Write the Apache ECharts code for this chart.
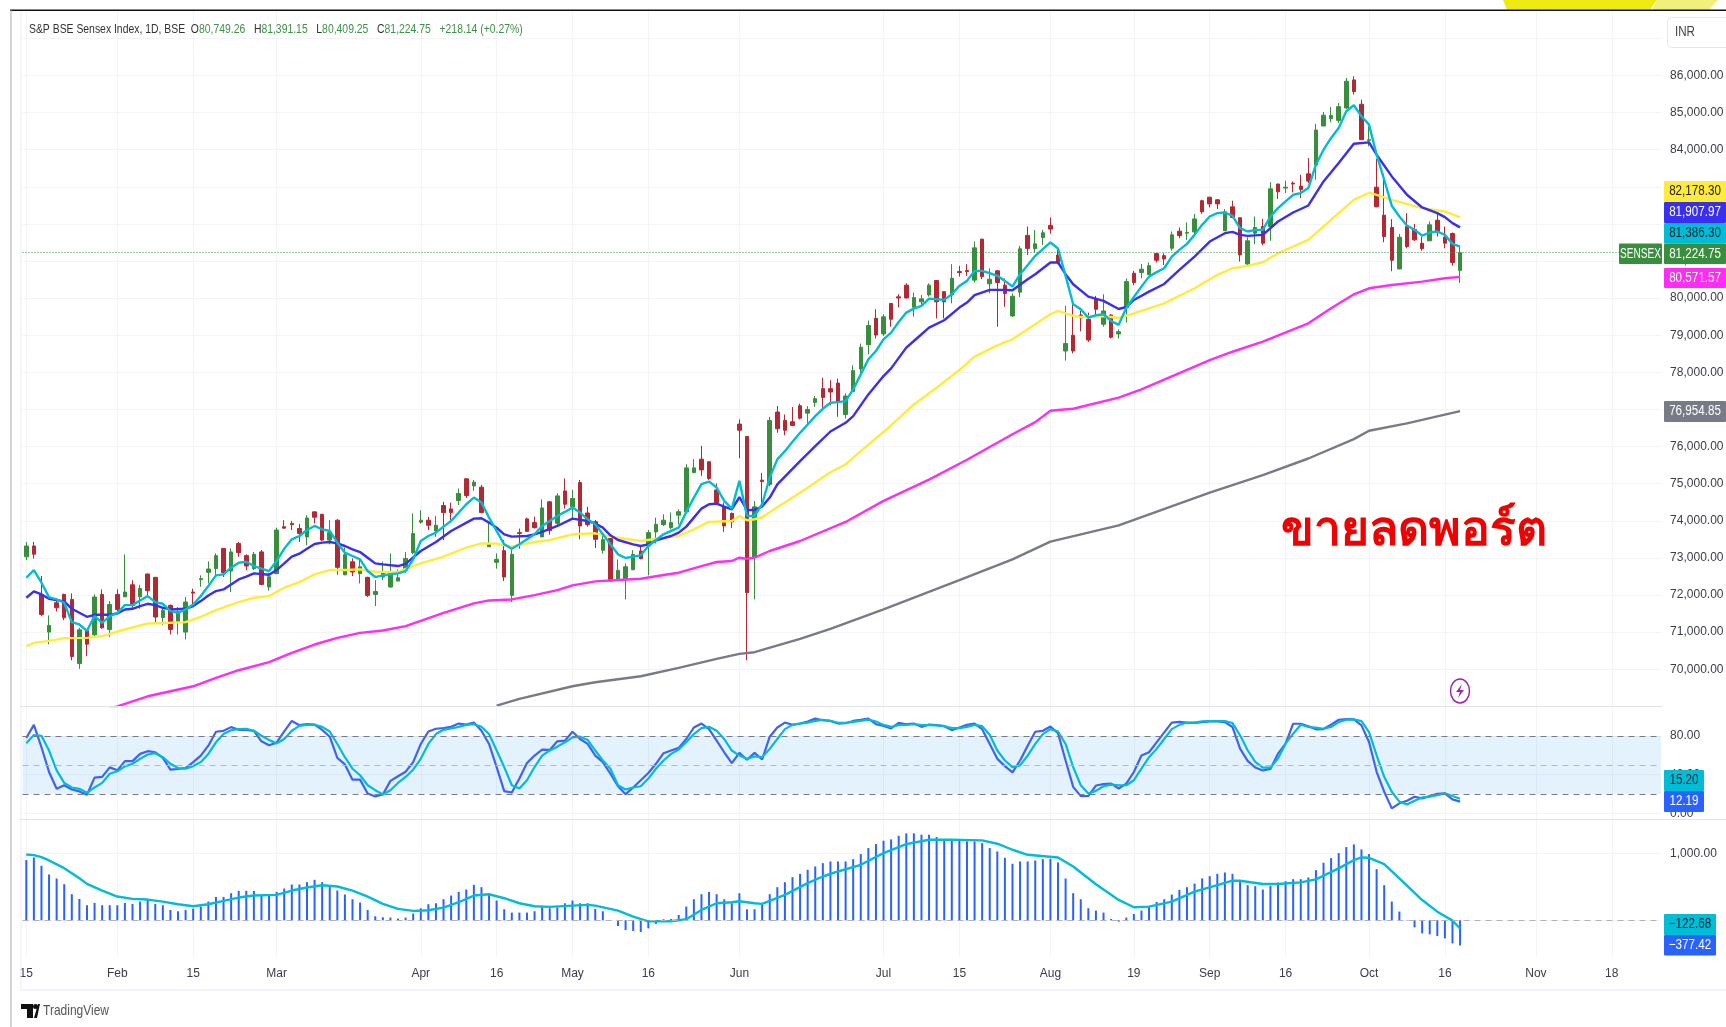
<!DOCTYPE html>
<html>
<head>
<meta charset="utf-8">
<title>S&P BSE Sensex Index</title>
<style>
	html, body { margin: 0; padding: 0; background: #fff; }
	#chart { width: 1726px; height: 1027px; }
</style>
</head>
<body>
<div id="chart"></div>
<script src="https://cdn.jsdelivr.net/npm/echarts@6/dist/echarts.min.js"></script>
<script>
// time axis: candle positions of the date labels, the rest of the categories stay blank
const categoryCount = 216
const tickIndex = [0, 12, 22, 33, 52, 62, 72, 82, 94, 113, 123, 135, 146, 156, 166, 177, 187, 199, 209]
const tickLabels = ['15', 'Feb', '15', 'Mar', 'Apr', '16', 'May', '16', 'Jun', 'Jul', '15', 'Aug', '19', 'Sep', '16', 'Oct', '16', 'Nov', '18']

const candleOpen = [
	73030,73320,72015,71000,71790,72015,71880,70150,71035,70925,
	72015,71070,72015,71950,72275,71950,72565,72475,71395,71720,
	71270,71000,72080,72410,72610,72710,73255,72645,73390,73060,
	72710,73160,72215,72575,73840,73925,73790,73565,74240,74175,
	73480,74015,72545,72895,72575,72475,72015,72485,72215,72375,
	72670,73140,73960,74015,73725,74410,74320,74545,75130,74940,
	74905,73300,72880,73195,71990,73680,74050,73950,73565,74510,
	73930,74805,74375,75030,74210,73975,73205,73520,72430,72440,
	72680,73185,73320,73700,73895,73815,74150,74240,75300,75660,
	75590,74830,74380,74200,76605,76270,73005,75095,74975,76930,
	76705,76670,77100,76900,77190,77560,77560,77710,76865,77485,
	78090,78745,79455,79035,79855,80035,80350,79755,79900,80085,
	80475,80175,80085,80715,80745,80485,81590,80385,80735,80350,
	79520,80160,81690,81330,81635,81960,81160,78575,79000,79545,
	79430,79990,79295,79545,79035,79745,80670,80690,80635,81200,
	81145,81345,81805,81750,81785,82625,82720,82650,81815,82460,
	82165,80920,81750,81930,81930,83075,82965,83100,83020,83350,
	83585,84640,84835,84790,85125,85880,85225,84245,82990,82235,
	81905,80785,81930,81850,81480,81545,82100,81640,81740,80749.26
]
const candleClose = [
	73320,73100,71475,71180,71655,71385,70340,71060,70675,71945,
	71115,71745,71610,72080,71720,72175,72115,71405,71585,71070,
	71555,71810,72050,72440,72700,73060,72600,73160,73140,72780,
	73095,72285,72490,73750,73800,73895,73660,74075,74095,73480,
	73680,72745,73085,72620,72760,71990,72095,72625,72575,72465,
	72985,73655,74015,73880,73880,74220,74220,74735,74680,75040,
	74220,73390,72960,72485,73095,73655,73715,73815,74345,73735,
	74670,74445,74600,73860,73895,73500,73490,72375,72665,72760,
	73095,72980,73680,73905,74015,73950,74245,75425,75425,75370,
	75140,74490,73860,73970,76440,72060,74375,75055,76705,76480,
	76440,76570,76765,77000,77290,77325,77470,77190,77360,78045,
	78675,79260,79005,79495,79430,80005,80005,80015,79980,80350,
	79900,79900,80535,80690,80715,81355,80580,80510,80420,80125,
	80050,81330,81340,81465,81760,81860,80970,78775,78575,79465,
	78870,79700,79655,78945,79095,80445,80420,80780,80875,81020,
	81055,81705,81685,81770,82135,82325,82540,82540,82325,82175,
	81165,81545,81905,81480,82945,82865,82990,83075,82930,83155,
	84530,84930,84925,85160,85845,85565,84270,84270,82460,81660,
	81020,81640,81390,81570,81335,81975,81770,81480,80960,81224.75
]
const candleLow = [
	72940,72980,71430,70670,71555,71320,70240,70010,70350,70890,
	71090,70870,71565,71950,71655,71630,71970,71230,71195,70935,
	70935,70800,71700,72220,72310,72510,72485,72080,73030,72670,
	72670,72260,72115,72575,73790,73750,73430,73340,73930,73455,
	73365,72545,72530,72510,72310,71945,71700,72400,72195,72375,
	72600,73095,73925,73750,73570,73480,73950,74420,74615,74805,
	74200,73300,72710,72375,71810,73250,73700,73790,73565,73625,
	73880,74330,74040,73500,73840,73265,73115,72350,72395,71880,
	72670,72960,72530,73390,73860,73770,73905,74200,75280,75210,
	75100,74445,73700,73800,75685,70240,71880,74390,74930,76370,
	76305,76550,76730,76595,77070,77000,77110,76800,76755,77470,
	77945,78485,78910,78980,79230,79755,79990,79500,79770,80040,
	79455,79455,79860,80580,80600,80420,80510,80130,79230,79765,
	79495,80025,81160,81230,81430,81735,80915,78315,78510,79105,
	78820,79540,79230,78910,78910,79340,80350,80535,80625,80960,
	80895,81280,81615,81570,81705,82270,82445,82400,81815,82155,
	80985,80885,81455,81425,81545,82670,82830,82850,82695,83100,
	83190,84630,84740,84720,85100,85485,84265,84090,82450,81505,
	80725,80785,81345,81545,81280,81545,81660,81345,80875,80409.25
]
const candleHigh = [
	73430,73430,72510,71450,71900,72035,72040,71115,71070,72015,
	72150,71835,72150,73095,72400,72275,72575,72475,71655,71745,
	71675,71945,72170,72530,72905,73120,73265,73255,73430,73095,
	73160,73210,72600,73815,74015,73995,73915,74150,74245,74175,
	74015,74040,73275,72985,72980,72490,72400,72895,73120,72690,
	73160,74200,74285,74105,74130,74510,74490,74870,75140,75100,
	74965,73950,73120,73480,73230,73790,74085,74110,74580,74535,
	74740,75140,74830,75100,74380,74020,73610,73530,72960,72850,
	73210,73320,73750,74085,74175,74220,74310,75525,75660,76020,
	75590,75005,74490,74220,76730,76280,74535,75290,76800,77090,
	76865,77065,77155,77090,77360,77855,77790,77830,77430,78190,
	78775,79395,79700,79565,79855,80105,80400,80150,80085,80400,
	80485,80185,80915,80870,80915,81525,81600,80800,80760,80530,
	80130,81410,81930,81835,81840,82175,81365,79790,79835,79655,
	79610,80060,80105,79565,79160,80530,80735,80920,80960,81210,
	81210,81795,81905,82040,82270,82650,82730,82670,82400,82625,
	82175,81635,82200,82135,83125,83080,83165,83145,83325,83775,
	84695,85015,85150,85260,85935,85980,85350,84630,83750,83345,
	82130,81730,82290,82000,81660,82065,82270,81930,81770,81391.15
]

// moving averages, [candle index, value]
const emaCyan = [
	[0,72465],[1,72672],[2,72330],[3,71943],[4,71880],[5,71790],[6,71268],[7,71205],[8,71034],[9,71430],
	[10,71250],[11,71430],[12,71520],[13,71727],[14,71727],[15,71853],[16,71970],[17,71808],[18,71763],[19,71565],
	[20,71520],[21,71610],[22,71745],[23,71970],[24,72240],[25,72528],[26,72555],[27,72735],[28,72870],[29,72897],
	[30,72780],[31,72708],[32,72645],[33,72915],[34,73248],[35,73500],[36,73590],[37,73752],[38,73860],[39,73770],
	[40,73725],[41,73410],[42,73140],[43,73050],[44,72960],[45,72645],[46,72483],[47,72528],[48,72560],[49,72582],
	[50,72645],[51,72960],[52,73455],[53,73590],[54,73680],[55,73842],[56,73995],[57,74220],[58,74445],[59,74625],
	[60,74490],[61,74085],[62,73725],[63,73365],[64,73248],[65,73365],[66,73500],[67,73635],[68,73860],[69,73995],
	[70,74130],[71,74238],[72,74355],[73,74220],[74,74040],[75,73905],[76,73635],[77,73365],[78,73095],[79,72996],
	[80,73032],[81,73068],[82,73320],[83,73482],[84,73635],[85,73725],[86,73815],[87,74238],[88,74625],[89,74985],
	[90,75057],[91,74895],[92,74535],[93,74328],[94,75075],[95,74130],[96,74130],[97,74445],[98,75165],[99,75655],
	[100,75875],[101,76127],[102,76370],[103,76595],[104,76820],[105,77018],[106,77180],[107,77198],[108,77225],[109,77540],
	[110,77945],[111,78350],[112,78575],[113,78890],[114,79070],[115,79358],[116,79610],[117,79718],[118,79790],[119,79988],
	[120,79970],[121,79952],[122,80105],[123,80330],[124,80465],[125,80735],[126,80735],[127,80672],[128,80600],[129,80465],
	[130,80312],[131,80645],[132,80888],[133,81140],[134,81320],[135,81500],[136,81338],[137,80600],[138,79835],[139,79700],
	[140,79475],[141,79538],[142,79565],[143,79385],[144,79280],[145,79735],[146,80030],[147,80310],[148,80580],[149,80700],
	[150,80805],[151,81120],[152,81300],[153,81462],[154,81705],[155,81975],[156,82200],[157,82290],[158,82308],[159,82218],
	[160,81885],[161,81795],[162,81840],[163,81840],[164,82200],[165,82425],[166,82605],[167,82785],[168,82830],[169,82965],
	[170,83595],[171,84000],[172,84315],[173,84585],[174,85035],[175,85197],[176,84900],[177,84675],[178,83865],[179,83190],
	[180,82488],[181,82200],[182,81957],[183,81840],[184,81687],[185,81768],[186,81795],[187,81705],[188,81462],[189,81386.3]
]
const emaBlue = [
	[0,71925],[1,72096],[2,72015],[3,71898],[4,71862],[5,71826],[6,71628],[7,71520],[8,71412],[9,71466],
	[11,71466],[12,71502],[13,71610],[14,71628],[15,71700],[16,71763],[17,71727],[18,71655],[19,71610],[21,71628],
	[22,71700],[23,71835],[24,71988],[25,72105],[26,72150],[27,72285],[28,72420],[29,72492],[30,72582],[32,72546],
	[33,72672],[34,72852],[35,73032],[36,73113],[37,73248],[38,73374],[39,73410],[40,73428],[41,73392],[42,73320],
	[43,73230],[44,73158],[45,73005],[46,72852],[47,72825],[49,72780],[50,72840],[52,73185],[54,73428],[56,73725],
	[59,74058],[60,74067],[61,73950],[62,73815],[63,73635],[64,73572],[66,73590],[67,73635],[68,73698],[70,73860],
	[72,74058],[74,73995],[75,73923],[76,73815],[77,73608],[78,73482],[80,73365],[81,73320],[82,73365],[83,73473],
	[85,73590],[86,73680],[87,73842],[88,74085],[89,74328],[90,74445],[91,74463],[92,74382],[93,74310],[94,74634],
	[95,74292],[96,74292],[97,74382],[98,74625],[99,74980],[102,75605],[104,76010],[106,76406],[108,76640],[109,76820],
	[111,77405],[113,77900],[114,78107],[116,78665],[117,78845],[119,79205],[121,79403],[123,79745],[124,79880],[125,80078],
	[127,80222],[129,80222],[130,80213],[132,80510],[133,80645],[135,80960],[136,80960],[137,80645],[138,80375],[140,80042],
	[142,79925],[144,79708],[145,79760],[146,79950],[148,80175],[150,80382],[152,80760],[154,81120],[156,81525],[158,81750],
	[159,81786],[160,81705],[161,81678],[163,81705],[165,82065],[167,82308],[169,82497],[171,83145],[173,83640],[175,84162],
	[177,84198],[178,83865],[180,83280],[182,82785],[184,82443],[186,82290],[187,82182],[188,82020],[189,81907.97]
]
const emaYellow = [
	[0,70620],[1,70710],[3,70764],[5,70836],[8,70845],[10,70890],[13,71070],[16,71232],[19,71250],[21,71268],
	[23,71412],[25,71592],[28,71808],[30,71925],[32,71970],[34,72195],[36,72348],[38,72555],[40,72672],[42,72672],
	[44,72690],[46,72627],[49,72620],[52,72852],[55,73032],[58,73275],[60,73392],[62,73383],[64,73302],[67,73428],
	[69,73482],[72,73635],[75,73662],[77,73572],[81,73455],[84,73545],[86,73590],[88,73770],[90,73968],[93,73995],
	[94,74130],[95,74013],[96,74040],[97,74095],[99,74365],[102,74755],[106,75308],[108,75520],[110,75875],[114,76568],
	[117,77135],[120,77585],[123,78062],[125,78422],[128,78728],[130,78890],[133,79295],[135,79565],[136,79655],[138,79520],
	[139,79493],[142,79520],[144,79465],[146,79590],[150,79860],[154,80265],[157,80625],[159,80805],[161,80868],[163,80967],
	[165,81210],[169,81570],[173,82290],[175,82650],[177,82839],[178,82785],[180,82650],[184,82425],[187,82335],[189,82178.3]
]
const emaMagenta = [
	[11,68950],[12,69000],[16,69270],[19,69405],[22,69540],[25,69765],[28,69972],[32,70188],[35,70440],[38,70665],
	[41,70845],[44,70980],[47,71043],[50,71160],[52,71305],[55,71520],[59,71772],[61,71853],[64,71880],[67,71997],
	[70,72132],[72,72258],[75,72366],[78,72402],[81,72438],[84,72537],[86,72600],[89,72780],[91,72888],[93,72915],
	[94,73005],[95,72978],[96,73005],[98,73185],[102,73455],[108,73968],[113,74535],[119,75110],[124,75645],[130,76330],
	[133,76658],[135,76965],[136,76985],[138,77018],[144,77320],[147,77540],[156,78330],[159,78555],[163,78825],[169,79320],
	[172,79725],[175,80103],[177,80265],[180,80355],[184,80445],[187,80535],[189,80571.57]
]
const emaGray = [
	[62,69020],[65,69198],[72,69540],[75,69648],[81,69810],[86,70035],[91,70278],[94,70413],[96,70458],[102,70818],
	[106,71088],[113,71610],[123,72402],[130,72960],[135,73437],[144,73878],[156,74760],[163,75228],[169,75678],[175,76200],
	[177,76425],[182,76623],[189,76954.85]
]

const stochK = [
	78,91.5,68.4,42.8,25.4,29.1,24.7,22.7,19.3,37,37.7,47.6,44.5,54,54,61.5,64.3,63.2,57.4,45.2,
	45.9,46.9,53,59.8,70,84.4,85.4,89.2,86.4,86.4,85.4,74.5,70.4,73.1,84.7,95.6,91.2,92.2,91.9,86.4,
	79.3,57.4,50.6,34.9,34.9,20.6,17.5,19.6,33.6,38.4,43.1,53,71.8,84.7,87.5,88.1,89.5,92.9,91.9,93.9,
	85.4,71.8,47.9,23,21.6,36,52,59.8,66,65.6,74.5,75.2,84.4,76.9,71.8,59.8,53,41,28.1,19.9,
	26.8,34.3,41.8,51.3,62.2,65,67.7,76.9,88.8,92.9,87.1,75.2,63.2,52,62.6,55.4,62.6,55.7,79.3,88.8,
	93.9,91.5,92.9,95,98,96.3,95.6,92.9,93.2,95.6,96.7,98,92.2,90.5,87.8,93.6,92.2,92.9,89.5,91.9,
	91.2,90.2,86.1,88.8,91.5,92.9,87.1,71.8,56.4,48.9,42.4,54.7,70,84.4,85.4,89.8,83,54.7,27.4,17.9,
	18.2,28.8,30.2,30.8,25.7,30.8,42.8,59.8,63.2,73.5,83.7,93.9,94.6,93.9,93.6,94.4,95.1,95.1,94.4,89.3,
	67,54.3,47.4,44.3,46,61.8,72.1,92.7,92.7,90,86.9,87.2,91.7,96.8,97.5,97.2,91,73.8,43,22.4,
	5.2,10.4,13.1,17.2,15.5,17.9,20.3,20.7,14.5,12.19
]
const stochD = [
	72.4,81,80.3,65,44.5,31.5,26.8,25.4,21.3,26.8,31.5,41,43.5,48.6,51.3,56.4,60.9,62.2,58.1,51.3,
	46.9,46.2,48.9,53,61.5,73.5,82,86,87.1,87.5,85.4,80.3,75.8,72.4,76.9,85.4,90.5,91.5,91.5,89.5,
	84.7,71.8,58.1,46.2,39.4,29.1,24,19.6,24,31.5,37.7,45.2,56.4,71.8,82,86.4,87.8,89.5,91.5,92.2,
	89.5,82,65,47.9,29.1,25.7,34.3,47.9,59.8,65,69,73.5,78.6,79.3,75.9,65,54.7,46.2,29.1,24.7,
	26.8,28.1,36,46.2,54.7,61.5,66,73.5,82,88.1,89.5,85.4,76.9,65,59.8,56.4,58.8,58.1,66.7,76.9,
	87.1,91.5,92.9,93.9,95.6,96.7,95.6,93.6,93.6,94.6,95.6,97,95,91.5,89.5,91.2,91.5,92.2,91.2,91.2,
	90.9,90.2,88.1,88.1,89.5,91.5,90.2,81.3,65,54.7,47.9,49.6,59.8,71.8,82,87.1,84.7,71.8,47.9,29.1,
	20.6,23.3,28.1,29.8,29.1,29.1,34.3,46.2,58.1,66.7,76.9,87.1,91.5,93.9,93.9,95.1,95.4,95.4,95.4,93.4,
	80.7,65.3,53.2,47.4,47.4,56.7,72.1,82.4,91.7,89.3,88.6,87.5,89.3,94.4,96.8,97.2,95.4,84.1,60.1,37.8,
	22.4,12.1,9.3,13.1,16.5,17.2,18.9,20.7,17.9,15.2
]

const macdHist = [
	900,940,815,685,625,540,390,320,225,260,225,225,225,260,245,280,305,245,225,155,
	135,155,175,205,280,350,350,405,440,440,440,365,365,425,475,535,535,570,605,570,
	515,445,385,315,265,155,60,45,40,25,40,100,180,240,255,315,370,425,460,530,
	495,385,295,165,115,115,115,135,205,180,195,255,295,255,255,170,135,5,-85,-145,
	-160,-175,-120,-55,15,20,80,205,315,390,425,390,315,255,405,165,165,235,390,495,
	570,645,695,755,805,855,880,880,880,915,990,1080,1140,1190,1210,1265,1300,1300,1280,1280,
	1245,1205,1205,1195,1180,1180,1155,1080,1030,935,845,880,880,895,915,920,865,625,405,315,
	180,145,115,20,-20,40,95,145,215,275,315,385,455,495,550,627,660,695,715,695,
	590,525,510,460,515,565,585,615,615,640,750,860,930,1005,1095,1135,1060,990,765,525,
	280,130,5,-105,-195,-210,-235,-270,-345,-377.42
]
const macdSignal = [
	[0,985],[1,975],[2,945],[3,895],[5,780],[7,630],[8,545],[10,445],[12,355],[14,320],
	[16,310],[18,280],[20,240],[22,210],[24,240],[26,290],[28,340],[30,370],[33,380],[35,445],
	[37,490],[39,525],[41,505],[43,445],[45,355],[47,245],[49,170],[51,140],[53,150],[55,190],
	[57,270],[59,370],[61,390],[63,330],[65,255],[67,210],[69,200],[72,220],[74,230],[75,220],
	[78,145],[80,55],[82,-15],[85,-15],[87,15],[89,155],[91,255],[93,270],[94,285],[96,255],
	[97,245],[100,380],[103,555],[105,655],[107,730],[110,830],[113,1005],[116,1140],[119,1205],[122,1205],
	[126,1195],[128,1145],[130,1055],[132,980],[136,940],[138,805],[141,540],[144,305],[146,195],[148,205],
	[151,280],[154,430],[157,527],[159,592],[160,592],[163,542],[165,542],[168,567],[170,612],[173,776],
	[175,900],[176,940],[177,935],[179,840],[181,627],[184,303],[186,129],[188,-5],[189,-122.68]
]

const priceTicks = [70000, 71000, 72000, 73000, 74000, 75000, 76000, 77000, 78000, 79000, 80000, 81000, 82000, 83000, 84000, 85000, 86000, 87000]
const stochTicks = [0, 40, 80]
const macdTicks = [0, 1000]

const lastClose = candleClose[candleClose.length - 1]
const labelFont = '"Liberation Sans", sans-serif'
const gridColor = '#f3f4f6'
const textColor = '#3a3d45'
const upColor = '#388e3c'
const downColor = '#b22833'

const axisCategories = Array.from({ length: categoryCount }, (_, i) => {
	const at = tickIndex.indexOf(i)
	return at >= 0 ? tickLabels[at] : ''
})
const isTick = (i) => tickIndex.includes(i)
const fmt = (v) => v.toLocaleString('en-US', { minimumFractionDigits: 2, maximumFractionDigits: 2 })

function xAxis(gridIndex, showLabel) {
	return {
		type: 'category',
		gridIndex,
		data: axisCategories,
		boundaryGap: true,
		axisLine: { show: false },
		axisTick: { show: false },
		splitLine: { show: true, interval: isTick, alignWithLabel: true, lineStyle: { color: gridColor, width: 1 } },
		axisLabel: {
			show: showLabel,
			interval: isTick,
			margin: 11,
			color: textColor,
			fontFamily: labelFont,
			fontSize: 12,
			alignMinLabel: 'center',
			alignMaxLabel: 'center'
		}
	}
}

function yAxis(gridIndex, min, max, ticks, labels) {
	return {
		type: 'value',
		gridIndex,
		position: 'right',
		min,
		max,
		scale: true,
		axisLine: { show: false },
		axisTick: { show: false, customValues: ticks },
		splitLine: { show: true, lineStyle: { color: gridColor, width: 1 } },
		axisLabel: {
			customValues: labels,
			margin: 9,
			color: textColor,
			fontFamily: labelFont,
			fontSize: 12,
			formatter: (v) => fmt(v),
			showMinLabel: true,
			showMaxLabel: true
		}
	}
}

function priceLine(name, data, color) {
	return {
		name,
		type: 'line',
		xAxisIndex: 0,
		yAxisIndex: 0,
		data,
		symbol: 'none',
		silent: true,
		lineStyle: { color, width: 2.4 }
	}
}

// price tags stacked on the right edge, they sit over the scale labels
function tag(x, y, w, h, fill, label, color, squeeze = 0.83) {
	return {
		type: 'group',
		children: [
			{ type: 'rect', z: 40, shape: { x, y, width: w, height: h, r: 1 }, style: { fill } },
			{
				type: 'text',
				z: 41,
				x: x + w / 2,
				y: y + h / 2,
				scaleX: squeeze,
				style: { text: label, fill: color, font: '14px ' + labelFont, align: 'center', verticalAlign: 'middle' }
			}
		]
	}
}

const overlays = [
	// frame of the screenshot
	{ type: 'polygon', z: 30, shape: { points: [[1503, 0], [1657, 0], [1650, 10], [1507, 10]] }, style: { fill: '#eeea14' } },
	{ type: 'polygon', z: 30, shape: { points: [[1657, 0], [1718, 0], [1709, 10], [1652, 10]] }, style: { fill: '#f1f07a' } },
	{ type: 'rect', z: 31, shape: { x: 10, y: 9.5, width: 1716, height: 1.5 }, style: { fill: '#111' } },
	{ type: 'rect', z: 31, shape: { x: 10.5, y: 10, width: 1, height: 1017 }, style: { fill: '#a8a8a8' } },
	{ type: 'rect', z: 5, shape: { x: 20.5, y: 11, width: 1, height: 979 }, style: { fill: '#eceef3' } },
	{ type: 'rect', z: 5, shape: { x: 20, y: 706, width: 1642, height: 1 }, style: { fill: '#e0e3eb' } },
	{ type: 'rect', z: 5, shape: { x: 20, y: 819, width: 1706, height: 1 }, style: { fill: '#e0e3eb' } },
	{ type: 'rect', z: 5, shape: { x: 20, y: 989, width: 1706, height: 2 }, style: { fill: '#f0f3fa' } },
	// legend line
	{
		type: 'text',
		z: 25,
		x: 29,
		y: 29,
		scaleX: 0.8,
		style: {
			text: '{d|S&P BSE Sensex Index, 1D, BSE  O}{g|80,749.26}{d|   H}{g|81,391.15}{d|   L}{g|80,409.25}{d|   C}{g|81,224.75   +218.14 (+0.27%)}',
			verticalAlign: 'middle',
			rich: {
				d: { fill: '#333', font: '13px ' + labelFont },
				g: { fill: '#3e9148', font: '13px ' + labelFont }
			}
		}
	},
	// currency box
	{ type: 'rect', z: 20, shape: { x: 1667.5, y: 17.5, width: 64, height: 30, r: 4 }, style: { fill: '#fff', stroke: '#e6e8ef', lineWidth: 1 } },
	{ type: 'text', z: 21, x: 1675, y: 32.5, scaleX: 0.83, style: { text: 'INR', fill: '#444', font: '14px ' + labelFont, verticalAlign: 'middle' } },
	// tags
	tag(1664, 181, 62, 21, '#ffeb3b', '82,178.30', '#222'),
	tag(1664, 202, 62, 21, '#3a2ef0', '81,907.97', '#fff'),
	tag(1664, 223, 62, 20.5, '#00bcd4', '81,386.30', '#123'),
	tag(1664, 243.5, 62, 20.5, '#388e3c', '81,224.75', '#fff'),
	tag(1619, 243.5, 43, 20.5, '#388e3c', 'SENSEX', '#fff', 0.72),
	tag(1664, 268, 62, 20, '#ff2cf5', '80,571.57', '#fff'),
	tag(1664, 401, 62, 21, '#787b86', '76,954.85', '#fff'),
	tag(1664, 770, 40, 21, '#00bcd4', '15.20', '#123'),
	tag(1664, 791, 40, 21, '#2962ff', '12.19', '#fff'),
	tag(1664, 914, 52, 21, '#00bcd4', '\u2212122.68', '#123'),
	tag(1664, 935, 52, 20.5, '#2962ff', '\u2212377.42', '#fff'),
	// annotation written on the chart
	{
		type: 'text',
		z: 25,
		x: 1414,
		y: 531,
		style: { text: 'ขายลดพอร์ต', fill: '#f20000', font: 'bold 48px "Noto Sans", "DejaVu Sans", sans-serif', align: 'center', verticalAlign: 'middle' }
	},
	// earnings flash icon
	{ type: 'ellipse', z: 25, shape: { cx: 1460, cy: 691, rx: 9.5, ry: 12 }, style: { fill: '#fff', stroke: '#9c27b0', lineWidth: 1.5 } },
	{ type: 'polygon', z: 26, shape: { points: [[1462, 684], [1456, 692], [1460, 692], [1458, 698], [1464, 690], [1460, 690]] }, style: { fill: '#9c27b0' } },
	// tradingview mark
	{ type: 'polygon', z: 25, shape: { points: [[21, 1004], [33, 1004], [33, 1018], [27, 1018], [27, 1009], [21, 1009]] }, style: { fill: '#111' } },
	{ type: 'circle', z: 25, shape: { cx: 35.5, cy: 1006.5, r: 2.5 }, style: { fill: '#111' } },
	{ type: 'polygon', z: 25, shape: { points: [[34, 1018], [38, 1004], [40, 1004], [39.5, 1006], [37, 1018]] }, style: { fill: '#111' } },
	{ type: 'text', z: 25, x: 43, y: 1011, scaleX: 0.8, style: { text: 'TradingView', fill: '#555', font: '15px ' + labelFont, verticalAlign: 'middle' } }
]

const option = {
	backgroundColor: '#fff',
	animation: false,
	grid: [
		{ left: 22.5, top: 11, width: 1638.6, height: 695, outerBoundsMode: 'none' },
		{ left: 22.5, top: 707, width: 1638.6, height: 112, outerBoundsMode: 'none' },
		{ left: 22.5, top: 820, width: 1638.6, height: 137, outerBoundsMode: 'none' }
	],
	xAxis: [xAxis(0, false), xAxis(1, false), xAxis(2, true)],
	yAxis: [
		yAxis(0, 69008, 87738, priceTicks, priceTicks.filter((v) => v <= 86000)),
		yAxis(1, -5.8, 110, stochTicks, stochTicks),
		yAxis(2, -549, 1500, macdTicks, [1000])
	],
	series: [
		priceLine('EMA gray', emaGray, '#787b86'),
		priceLine('EMA magenta', emaMagenta, '#ff2cf5'),
		priceLine('EMA yellow', emaYellow, '#ffeb3b'),
		{
			name: 'S&P BSE Sensex',
			type: 'candlestick',
			xAxisIndex: 0,
			yAxisIndex: 0,
			barWidth: 4,
			data: candleOpen.map((o, i) => [o, candleClose[i], candleLow[i], candleHigh[i]]),
			itemStyle: {
				color: upColor,
				color0: downColor,
				borderColor: upColor,
				borderColor0: downColor,
				borderWidth: 1
			},
			markLine: {
				silent: true,
				symbol: 'none',
				label: { show: false },
				lineStyle: { color: upColor, type: [1, 2], width: 1 },
				data: [{ yAxis: lastClose }]
			}
		},
		priceLine('EMA blue', emaBlue, '#3a2ef0'),
		priceLine('EMA cyan', emaCyan, '#00bcd4'),
		{
			name: '%K',
			type: 'line',
			xAxisIndex: 1,
			yAxisIndex: 1,
			data: stochK,
			symbol: 'none',
			lineStyle: { color: '#3d63f5', width: 2.2 },
			markArea: {
				silent: true,
				itemStyle: { color: 'rgba(33,150,243,0.12)' },
				data: [[{ yAxis: 80 }, { yAxis: 20 }]]
			},
			markLine: {
				silent: true,
				symbol: 'none',
				label: { show: false },
				lineStyle: { color: '#787b86', type: [6, 5], width: 1 },
				data: [
					{ yAxis: 80 },
					{ yAxis: 20 },
					{ yAxis: 50, lineStyle: { color: '#b6b9c2', type: [6, 5], width: 1 } }
				]
			}
		},
		{
			name: '%D',
			type: 'line',
			xAxisIndex: 1,
			yAxisIndex: 1,
			data: stochD,
			symbol: 'none',
			lineStyle: { color: '#00bcd4', width: 2.2 }
		},
		{
			name: 'MACD histogram',
			type: 'bar',
			xAxisIndex: 2,
			yAxisIndex: 2,
			data: macdHist,
			barWidth: 2,
			itemStyle: { color: '#2962ff' },
			markLine: {
				silent: true,
				symbol: 'none',
				label: { show: false },
				lineStyle: { color: '#b0b3bb', type: [6, 5], width: 1 },
				data: [{ yAxis: 0 }]
			}
		},
		{
			name: 'MACD signal',
			type: 'line',
			xAxisIndex: 2,
			yAxisIndex: 2,
			data: macdSignal,
			symbol: 'none',
			lineStyle: { color: '#00bcd4', width: 2.4 }
		}
	],
	graphic: { elements: overlays }
}

const chart = echarts.init(document.getElementById('chart'), null, { renderer: 'canvas' })
chart.setOption(option)
</script>
</body>
</html>
